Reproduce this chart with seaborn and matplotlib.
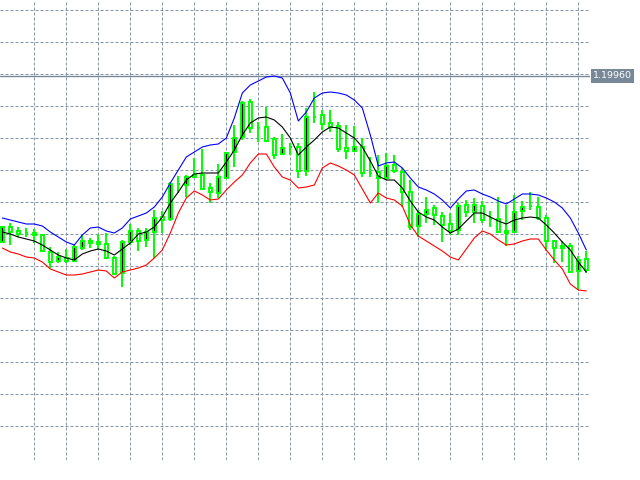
import numpy as np
import pandas as pd
import matplotlib
matplotlib.use('Agg')
import matplotlib.pyplot as plt
import seaborn as sns

# OHLC bars, oldest first
opens = [1.1830, 1.1845, 1.1841, 1.1839, 1.1839, 1.1837, 1.1820, 1.1811, 1.1814, 1.1811,
         1.1824, 1.1831, 1.1830, 1.1828, 1.1814, 1.1799, 1.1830, 1.1841, 1.1832, 1.1840,
         1.1855, 1.1853, 1.1888, 1.1887, 1.1897, 1.1897, 1.1884, 1.1879, 1.1894, 1.1920,
         1.1935, 1.1970, 1.1944, 1.1945, 1.1933, 1.1918, 1.1925, 1.1925, 1.1901, 1.1955,
         1.1957, 1.1949, 1.1946, 1.1924, 1.1921, 1.1925, 1.1899, 1.1900, 1.1894, 1.1907,
         1.1900, 1.1880, 1.1846, 1.1858, 1.1864, 1.1856, 1.1848, 1.1842, 1.1867, 1.1860,
         1.1866, 1.1853, 1.1853, 1.1841, 1.1840, 1.1861, 1.1866, 1.1865, 1.1854, 1.1831,
         1.1824, 1.1826, 1.1801, 1.1813]
highs = [1.1846, 1.1849, 1.1845, 1.1844, 1.1843, 1.1838, 1.1825, 1.1820, 1.1823, 1.1828,
         1.1838, 1.1834, 1.1838, 1.1839, 1.1816, 1.1832, 1.1848, 1.1844, 1.1844, 1.1862,
         1.1861, 1.1890, 1.1896, 1.1897, 1.1914, 1.1923, 1.1889, 1.1908, 1.1920, 1.1947,
         1.1971, 1.1973, 1.1950, 1.1965, 1.1935, 1.1938, 1.1929, 1.1929, 1.1964, 1.1980,
         1.1962, 1.1962, 1.1950, 1.1947, 1.1946, 1.1934, 1.1915, 1.1917, 1.1919, 1.1917,
         1.1904, 1.1892, 1.1862, 1.1875, 1.1867, 1.1860, 1.1859, 1.1869, 1.1872, 1.1874,
         1.1871, 1.1861, 1.1875, 1.1867, 1.1877, 1.1871, 1.1880, 1.1875, 1.1857, 1.1832,
         1.1831, 1.1829, 1.1816, 1.1821]
lows = [1.1829, 1.1827, 1.1835, 1.1835, 1.1829, 1.1820, 1.1804, 1.1809, 1.1809, 1.1810,
        1.1822, 1.1824, 1.1822, 1.1813, 1.1797, 1.1785, 1.1827, 1.1821, 1.1825, 1.1814,
        1.1839, 1.1851, 1.1879, 1.1875, 1.1894, 1.1882, 1.1869, 1.1874, 1.1893, 1.1905,
        1.1932, 1.1939, 1.1930, 1.1931, 1.1913, 1.1917, 1.1917, 1.1894, 1.1896, 1.1949,
        1.1942, 1.1940, 1.1920, 1.1913, 1.1921, 1.1895, 1.1895, 1.1869, 1.1892, 1.1899,
        1.1865, 1.1842, 1.1835, 1.1849, 1.1847, 1.1830, 1.1837, 1.1837, 1.1855, 1.1849,
        1.1849, 1.1845, 1.1839, 1.1826, 1.1839, 1.1852, 1.1862, 1.1852, 1.1821, 1.1809,
        1.1810, 1.1799, 1.1782, 1.1799]
closes = [1.1845, 1.1840, 1.1838, 1.1839, 1.1837, 1.1821, 1.1810, 1.1815, 1.1811, 1.1825,
          1.1831, 1.1829, 1.1828, 1.1814, 1.1798, 1.1830, 1.1841, 1.1831, 1.1840, 1.1854,
          1.1852, 1.1888, 1.1888, 1.1895, 1.1895, 1.1883, 1.1880, 1.1895, 1.1919, 1.1934,
          1.1969, 1.1944, 1.1944, 1.1931, 1.1917, 1.1924, 1.1925, 1.1901, 1.1955, 1.1955,
          1.1948, 1.1945, 1.1923, 1.1921, 1.1925, 1.1899, 1.1899, 1.1894, 1.1906, 1.1901,
          1.1880, 1.1845, 1.1858, 1.1862, 1.1857, 1.1847, 1.1841, 1.1866, 1.1860, 1.1867,
          1.1852, 1.1853, 1.1840, 1.1839, 1.1860, 1.1865, 1.1866, 1.1854, 1.1831, 1.1824,
          1.1826, 1.1800, 1.1812, 1.1802]

# indicator lines (upper band, middle, lower band)
upper_band = [1.1854, 1.1852, 1.1850, 1.1848, 1.1848, 1.1846, 1.1840, 1.1835, 1.1830, 1.1827,
              1.1837, 1.1844, 1.1845, 1.1841, 1.1839, 1.1844, 1.1853, 1.1856, 1.1859, 1.1865,
              1.1875, 1.1889, 1.1902, 1.1915, 1.1920, 1.1925, 1.1927, 1.1928, 1.1934, 1.1954,
              1.1979, 1.1987, 1.1991, 1.1995, 1.1996, 1.1994, 1.1979, 1.1951, 1.1960, 1.1974,
              1.1979, 1.1980, 1.1979, 1.1977, 1.1972, 1.1964, 1.1937, 1.1906, 1.1909, 1.1910,
              1.1904, 1.1894, 1.1885, 1.1882, 1.1878, 1.1872, 1.1864, 1.1873, 1.1881, 1.1882,
              1.1878, 1.1875, 1.1871, 1.1868, 1.1873, 1.1878, 1.1878, 1.1877, 1.1874, 1.1870,
              1.1864, 1.1854, 1.1839, 1.1822]
middle_line = [1.1840, 1.1838, 1.1835, 1.1833, 1.1831, 1.1827, 1.1822, 1.1817, 1.1814, 1.1812,
               1.1818, 1.1821, 1.1823, 1.1821, 1.1817, 1.1823, 1.1829, 1.1838, 1.1840, 1.1845,
               1.1855, 1.1869, 1.1880, 1.1892, 1.1898, 1.1899, 1.1899, 1.1899, 1.1910, 1.1922,
               1.1937, 1.1949, 1.1954, 1.1955, 1.1952, 1.1945, 1.1934, 1.1917, 1.1925, 1.1932,
               1.1940, 1.1945, 1.1944, 1.1939, 1.1934, 1.1925, 1.1911, 1.1896, 1.1892, 1.1892,
               1.1884, 1.1871, 1.1860, 1.1855, 1.1852, 1.1845, 1.1839, 1.1843, 1.1851, 1.1859,
               1.1859, 1.1855, 1.1851, 1.1848, 1.1852, 1.1854, 1.1855, 1.1854, 1.1847, 1.1839,
               1.1830, 1.1822, 1.1810, 1.1800]
lower_band = [1.1824, 1.1820, 1.1818, 1.1815, 1.1814, 1.1810, 1.1803, 1.1800, 1.1797, 1.1797,
              1.1798, 1.1800, 1.1802, 1.1801, 1.1794, 1.1800, 1.1802, 1.1804, 1.1807, 1.1814,
              1.1822, 1.1839, 1.1859, 1.1874, 1.1881, 1.1877, 1.1872, 1.1873, 1.1882, 1.1890,
              1.1897, 1.1909, 1.1918, 1.1918, 1.1905, 1.1895, 1.1892, 1.1884, 1.1885, 1.1887,
              1.1904, 1.1909, 1.1906, 1.1902, 1.1897, 1.1883, 1.1869, 1.1879, 1.1874, 1.1872,
              1.1866, 1.1847, 1.1836, 1.1831, 1.1826, 1.1821, 1.1815, 1.1812, 1.1823, 1.1834,
              1.1841, 1.1838, 1.1832, 1.1827, 1.1828, 1.1831, 1.1833, 1.1833, 1.1822, 1.1812,
              1.1803, 1.1788, 1.1782, 1.1781]

last_price = 1.19960

GRID = '#778899'
CANDLE = '#00ff00'

df = pd.DataFrame({'bar': np.arange(len(opens)), 'open': opens, 'high': highs,
                   'low': lows, 'close': closes, 'upper': upper_band,
                   'middle': middle_line, 'lower': lower_band})

sns.set_style('white')
fig = plt.figure(figsize=(6.4, 4.8), dpi=100)
# chart area only, the price scale sits to the right of it
ax = fig.add_axes([0, 20 / 480, 590 / 640, 460 / 480])

# wicks
ax.vlines(df['bar'], df['low'], df['high'], color=CANDLE, linewidth=1.4, zorder=2)

# bodies: black for rising bars, white for falling ones
body_low = df[['open', 'close']].min(axis=1)
body_h = (df['close'] - df['open']).abs()
fills = np.where(df['close'] > df['open'], 'black', 'white')
ax.bar(df['bar'], body_h, bottom=body_low, width=0.45, color=fills,
       edgecolor=CANDLE, linewidth=1.4, zorder=3)

sns.lineplot(data=df, x='bar', y='upper', ax=ax, color='#0000ff', linewidth=0.8, zorder=4)
sns.lineplot(data=df, x='bar', y='middle', ax=ax, color='black', linewidth=0.8, zorder=4)
sns.lineplot(data=df, x='bar', y='lower', ax=ax, color='#ff0000', linewidth=0.8, zorder=4)

# last price line and its label on the price scale
ax.axhline(last_price, color=GRID, linewidth=1.0, zorder=1.5)
ax.text(1.0 + 3 / 590, last_price, f'{last_price:.5f}', transform=ax.get_yaxis_transform(),
        ha='left', va='center', color='white', fontsize=6.8, clip_on=False,
        bbox=dict(boxstyle='square,pad=0.25', facecolor=GRID, edgecolor='none'))

ax.set_xlim(-0.29, 73.46)
ax.set_ylim(1.1612, 1.2072)
ax.set_xticks(np.arange(4, 73, 4))
ax.set_yticks(1.2062 - 0.0032 * np.arange(14))
ax.set_axisbelow(True)
ax.grid(True, color=GRID, linestyle=(0, (3, 2)), linewidth=0.72, alpha=0.9)
ax.tick_params(left=False, bottom=False, labelleft=False, labelbottom=False)
ax.set_xlabel('')
ax.set_ylabel('')
for s in ax.spines.values():
    s.set_visible(False)

fig.savefig('out.png', dpi=100)
